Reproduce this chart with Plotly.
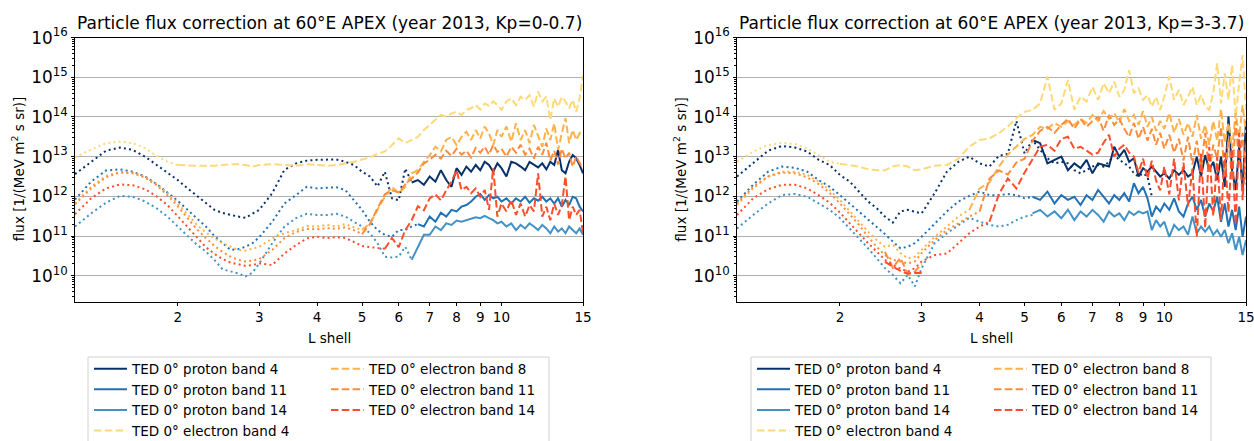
import plotly.graph_objects as go

# ---------------- data (L shell grid, log10 flux values) ----------------
G = [1.2, 1.3, 1.4, 1.5, 1.6, 1.7, 1.8, 1.9, 2.0, 2.1, 2.2, 2.3, 2.4, 2.5, 2.6, 2.7, 2.8, 2.9, 3.0,
     3.2, 3.4, 3.6, 3.8, 4.0, 4.2, 4.4, 4.6, 4.8, 5.0, 5.2, 5.4, 5.6, 5.8, 6.0, 6.2, 6.4, 6.6, 6.8,
     7.0, 7.2, 7.4, 7.6, 7.8, 8.0, 8.2, 8.4, 8.6, 8.8, 9.0, 9.2, 9.4, 9.6, 9.8, 10.0,
     10.25, 10.5, 10.75, 11.0, 11.25, 11.5, 11.75, 12.0, 12.25, 12.5, 12.75, 13.0, 13.25, 13.5,
     13.75, 14.0, 14.25, 14.5, 14.75, 15.0]

x_ticks = [2, 3, 4, 5, 6, 7, 8, 9, 10, 15]

names = ["TED 0° proton band 4", "TED 0° proton band 11", "TED 0° proton band 14",
         "TED 0° electron band 4", "TED 0° electron band 8", "TED 0° electron band 11",
         "TED 0° electron band 14"]

titles = ["Particle flux correction at 60°E APEX (year 2013, Kp=0-0.7)",
          "Particle flux correction at 60°E APEX (year 2013, Kp=3-3.7)"]
x_title = "L shell"
y_title = "flux [1/(MeV m<sup>2</sup> s sr)]"

# ---- Kp = 0-0.7 ----
a_p4_dot = [12.56, 12.87, 13.15, 13.23, 13.17, 13.00, 12.79, 12.60, 12.41, 12.20, 12.02, 11.83, 11.66, 11.58, 11.53,
            11.49, 11.46, 11.56, 11.66, 12.08, 12.67, 12.83, 12.90, 12.92, 12.92, 12.93, 12.87, 12.79, 12.62, 12.50,
            12.25, 12.62, 11.95, 11.90, 12.70, 12.35]
a_p4_main_from = 6.4
a_p4_main = [12.35, 12.41, 12.29, 12.50, 12.37, 12.66, 12.41, 12.24, 12.71, 12.54, 12.75, 12.62, 12.79, 12.66, 12.87,
             12.79, 12.62, 12.83, 12.71,
             12.50, 12.87, 12.83, 12.75, 12.66, 12.87, 12.79, 12.73, 12.83, 12.68, 12.87, 12.79, 13.17, 12.66, 12.58,
             12.87, 13.04, 12.96, 12.79, 12.58]
a_p11_dot = [11.92, 12.37, 12.65, 12.68, 12.62, 12.50, 12.31, 12.10, 11.89, 11.66, 11.45, 11.24, 11.00, 10.82, 10.65,
             10.67, 10.73, 10.82, 10.97, 11.36, 11.82, 12.03, 12.24, 12.20, 12.22, 12.23, 12.16, 11.91, 11.66, 11.36,
             11.15, 11.03, 10.98, 11.15, 11.15, 11.24, 11.30]
a_p11_main_from = 6.6
a_p11_main = [11.30, 11.24, 11.49, 11.36, 11.59, 11.49, 11.66, 11.62, 11.74, 11.78, 11.87, 11.99, 12.06, 11.91, 12.03,
              11.95, 11.99, 11.87,
              11.95, 11.82, 11.95, 11.87, 11.99, 11.84, 11.95, 11.89, 11.99, 11.87, 11.95, 11.82, 11.95, 11.74, 11.91,
              11.78, 11.99, 11.95, 11.74, 11.62]
a_p14_dot = [11.24, 11.57, 11.84, 12.01, 11.99, 11.87, 11.70, 11.49, 11.24, 11.00, 10.78, 10.61, 10.40, 10.16, 10.10,
             10.06, 9.98, 10.08, 10.31, 10.82, 11.24, 11.45, 11.56, 11.53, 11.53, 11.56, 11.49, 11.36, 11.24, 11.07,
             10.82, 10.48, 10.46, 10.48, 10.73, 10.40]
a_p14_main_from = 6.4
a_p14_main = [10.40, 10.73, 11.03, 11.03, 11.24, 11.15, 11.32, 11.28, 11.39, 11.36, 11.40, 11.45, 11.47, 11.45, 11.51,
              11.45, 11.40, 11.32, 11.36,
              11.24, 11.32, 11.15, 11.28, 11.19, 11.32, 11.24, 11.15, 11.28, 11.19, 11.07, 11.24, 11.11, 11.19, 11.07,
              11.24, 11.15, 11.07, 11.19, 11.03]
a_e4_dot = [12.98, 13.18, 13.34, 13.38, 13.34, 13.21, 13.02, 12.87, 12.79]
a_e4_main_from = 2.0
a_e4_main = [12.79, 12.77, 12.77, 12.77, 12.77, 12.79, 12.81, 12.81, 12.79, 12.75, 12.79,
             12.81, 12.79, 12.77, 12.81, 12.79, 12.77, 12.79, 12.83, 12.87, 12.93, 12.98, 13.07, 13.13, 13.29, 13.46,
             13.34, 13.42, 13.50, 13.67, 13.80, 13.92, 14.05, 14.01, 14.09, 14.13, 14.05, 14.18, 14.22, 14.30, 14.19,
             14.34, 14.28, 14.39, 14.30, 14.18,
             14.39, 14.47, 14.30, 14.51, 14.43, 14.55, 14.26, 14.64, 14.39, 14.51, 13.92, 14.47, 14.26, 14.51, 14.39,
             14.22, 14.43, 14.13, 14.47, 15.05]
a_e8_dot = [11.82, 12.24, 12.51, 12.62, 12.60, 12.50, 12.31, 12.08, 11.82, 11.53, 11.28, 11.09, 10.94, 10.82, 10.73,
            10.65, 10.63, 10.69, 10.73, 10.94, 11.07, 11.15, 11.25, 11.24, 11.28, 11.24, 11.30, 11.22, 11.15]
a_e8_main_from = 5.0
a_e8_main = [11.15, 11.32, 11.66, 11.99, 12.24, 12.08, 12.24, 12.58, 12.66, 12.87, 13.04, 13.25, 13.13, 13.42, 13.50,
             13.29, 13.50, 13.63, 13.42, 13.67, 13.46, 13.76, 13.59, 13.29, 13.67, 13.50,
             13.76, 13.38, 13.84, 13.42, 13.67, 13.34, 13.80, 13.50, 13.25, 13.71, 13.42, 13.84, 13.17, 13.59, 13.97,
             13.34, 13.67, 13.42, 13.59, 13.67]
a_e11_dot = [11.80, 12.20, 12.48, 12.60, 12.58, 12.47, 12.28, 12.03, 11.75, 11.45, 11.17, 10.95, 10.75, 10.60, 10.48,
             10.40, 10.36, 10.38, 10.42, 10.65, 10.95, 11.10, 11.18, 11.17, 11.20, 11.18, 11.22, 11.15, 11.05]
a_e11_main_from = 5.0
a_e11_main = [11.05, 11.30, 11.70, 12.05, 12.15, 12.10, 12.30, 12.45, 12.60, 12.83, 12.92, 13.05, 12.95, 13.15, 13.02,
              13.20, 13.05, 13.15, 12.98, 13.22, 13.10, 13.25, 13.05, 13.30, 13.12, 13.20,
              13.00, 13.25, 13.10, 13.30, 13.05, 13.20, 12.95, 13.25, 13.05, 13.35, 12.90, 13.15, 12.80, 13.20, 12.95,
              13.10, 12.75, 13.00, 12.85, 12.70]
a_e14_dot = [11.55, 11.95, 12.20, 12.30, 12.28, 12.18, 12.00, 11.78, 11.50, 11.22, 10.95, 10.72, 10.55, 10.42, 10.33,
             10.28, 10.25, 10.27, 10.31, 10.27, 10.56, 10.77, 10.94, 10.98, 10.95, 10.97, 10.95, 10.85, 10.75, 10.72,
             10.70, 10.68]
a_e14_main_from = 5.6
a_e14_main = [10.68, 10.95, 10.72, 11.15, 11.40, 11.75, 11.65, 11.95, 12.05, 11.90, 12.15, 12.37, 12.66, 12.16, 12.24,
              12.08, 12.20, 11.99, 12.16, 11.66, 12.71, 11.49, 11.82,
              11.62, 11.91, 11.53, 11.82, 11.49, 11.78, 11.62, 12.58, 11.49, 11.74, 11.40, 11.82, 11.53, 11.78, 12.50,
              11.40, 11.74, 11.53, 11.66, 11.07]

# ---- Kp = 3-3.7 ----
b_p4_dot = [12.50, 12.85, 13.15, 13.27, 13.23, 13.13, 12.92, 12.79, 12.54, 12.37, 12.12, 11.87, 11.70, 11.49, 11.34,
            11.62, 11.66, 11.62, 11.57, 12.08, 12.62, 12.87, 13.00, 12.83, 12.75, 13.02, 13.07, 13.90, 13.08, 13.42,
            13.17, 12.96, 12.83, 12.87, 12.83, 12.66, 12.58, 12.66, 12.75, 12.79, 12.75, 12.87, 13.04, 12.92, 12.83,
            12.75, 12.58, 12.50, 12.58, 12.50, 12.00]
b_p4_main_from = 5.2
b_p4_main = [13.42, 13.34, 12.83, 12.92, 13.00, 12.66, 12.83, 12.71, 12.92, 12.58, 12.83, 12.79, 12.75, 13.25, 13.00,
             13.17, 12.87, 12.96, 12.50, 12.71, 12.62, 12.75, 12.62, 12.50, 12.58,
             12.45, 12.66, 12.54, 12.66, 12.50, 12.58, 13.00, 12.50, 13.04, 12.66, 12.87, 12.41, 13.00, 12.24, 14.01,
             12.66, 12.16, 13.25, 12.20, 13.90]
b_p11_dot = [11.87, 12.29, 12.62, 12.75, 12.72, 12.62, 12.41, 12.24, 12.03, 11.82, 11.62, 11.42, 11.24, 11.05, 10.86,
             10.69, 10.73, 10.82, 10.98, 11.32, 11.62, 11.87, 12.01, 12.12, 12.03, 12.03, 12.06, 12.03, 11.95, 11.99]
b_p11_main_from = 5.2
b_p11_main = [11.99, 11.91, 12.12, 11.82, 12.03, 11.91, 11.99, 11.78, 12.03, 11.91, 12.16, 11.99, 11.82, 12.03, 11.91,
              12.08, 11.87, 12.33, 12.08, 12.24, 11.95, 11.49, 11.74, 11.62, 11.82,
              11.66, 11.95, 11.62, 11.49, 11.82, 11.99, 11.66, 11.91, 11.49, 11.82, 11.62, 11.99, 11.36, 11.82, 11.24,
              11.66, 11.15, 11.74, 10.98, 11.49]
b_p14_dot = [11.19, 11.53, 11.82, 12.03, 12.06, 11.99, 11.82, 11.66, 11.45, 11.19, 10.94, 10.69, 10.44, 10.19, 10.02,
             9.81, 10.02, 9.73, 10.19, 10.82, 11.07, 11.28, 11.46, 11.36, 11.28, 11.24, 11.28, 11.40, 11.49, 11.53]
b_p14_main_from = 5.2
b_p14_main = [11.57, 11.66, 11.49, 11.62, 11.45, 11.66, 11.40, 11.62, 11.49, 11.66, 11.53, 11.36, 11.62, 11.49, 11.57,
              11.40, 11.62, 11.53, 11.62, 11.57, 11.62, 11.15, 11.40, 11.24, 11.36,
              10.98, 11.28, 11.15, 11.24, 11.03, 11.49, 11.07, 11.24, 11.11, 11.24, 11.03, 11.15, 10.98, 11.15, 10.82,
              11.07, 10.65, 10.98, 10.52, 10.90]
b_e4_dot = [12.87, 13.13, 13.29, 13.35, 13.32, 13.21, 13.04, 12.87, 12.82]
b_e4_main_from = 2.0
b_e4_main = [12.82, 12.79, 12.75, 12.68, 12.66, 12.66, 12.75, 12.79, 12.75, 12.66, 12.68,
             12.77, 12.79, 12.95, 13.25, 13.42, 13.46, 13.59, 13.76, 13.97, 14.13, 14.18, 14.34, 15.02, 14.18, 14.34,
             14.93, 14.18, 14.51, 14.39, 14.76, 14.43, 14.85, 14.60, 14.89, 14.51, 14.68, 15.18, 14.60, 14.72, 14.43,
             14.55, 14.26, 14.51, 14.18, 14.51,
             15.02, 14.43, 14.68, 14.30, 14.51, 14.76, 14.30, 14.55, 14.26, 14.18, 14.60, 15.35, 14.34, 15.10, 14.43,
             15.31, 14.01, 14.85, 15.56, 14.18]
b_e8_dot = [11.78, 12.20, 12.50, 12.62, 12.62, 12.54, 12.37, 12.16, 11.91, 11.62, 11.36, 11.11, 10.90, 10.73, 10.78,
            10.57, 10.44, 10.48, 10.65, 10.98, 11.24, 11.49, 11.66]
b_e8_main_from = 3.8
b_e8_main = [11.66, 12.20, 12.35, 12.75, 13.05, 13.25, 13.45, 13.55, 13.75, 13.70, 13.85, 13.75, 13.90, 13.80, 13.95,
             13.85, 14.05, 13.90, 14.15, 13.95, 14.10, 13.85, 14.20, 13.90, 14.05, 13.80, 14.15, 13.75, 14.00, 13.65,
             13.90, 13.70,
             14.10, 13.60, 13.95, 13.55, 13.85, 13.50, 14.05, 13.45, 13.80, 13.30, 13.90, 13.40, 14.20, 13.35, 13.85,
             13.20, 14.10, 13.50, 14.30, 13.60]
b_e11_dot = [11.82, 12.24, 12.50, 12.60, 12.58, 12.48, 12.31, 12.09, 11.82, 11.53, 11.28, 10.98, 10.73, 10.52, 10.40,
             10.36, 10.31, 10.36, 10.57, 10.90, 11.15, 11.32, 11.49, 11.62]
b_e11_main_from = 2.5
b_e11_main = [10.60, 10.20, 10.45, 10.05, 10.10, 10.30,
              None, None, None, None, 11.62, 12.45, 12.65, 12.55, 12.85, 12.95, 13.40, 13.65, 13.75, 13.60, 13.80,
              13.95, 13.70, 13.95, 13.75, 13.90, 14.00, 13.65, 14.05, 13.80, 13.95, 13.70, 13.50, 13.85, 13.45, 13.75,
              13.40, 13.70, 13.30, 13.60, 13.20,
              13.55, 13.10, 13.45, 12.90, 13.50, 12.80, 13.40, 12.70, 13.60, 12.60, 13.30, 12.95, 13.75, 12.50, 13.45,
              12.40, 13.90, 12.80, 13.60, 12.30]
b_e14_dot = [11.53, 11.95, 12.18, 12.29, 12.29, 12.20, 12.03, 11.84, 11.59, 11.32, 11.05, 10.82, 10.61, 10.40, 10.27,
             10.19, 10.10, 10.19, 10.36, 10.52, 10.56, 10.82, 11.07, 11.24, 11.36]
b_e14_main_from = 2.5
b_e14_main = [10.35, 10.23, 10.12, 10.05, 10.07, 10.07,
              None, None, None, None, None, 11.36, 12.05, 12.45, 12.20, 12.60, 12.95, 13.25, 13.30, 13.15, 13.45,
              13.50, 13.20, 13.25, 13.15, 13.05, 13.10, 13.35, 13.55, 13.00, 13.20, 13.30, 13.10, 13.00, 12.60, 12.95,
              12.45, 12.90, 12.40, 12.15, 12.75,
              12.05, 12.95, 11.90, 12.85, 11.75, 12.70, 10.98, 13.10, 11.20, 13.25, 11.50, 13.00, 11.40, 13.10, 11.60,
              13.20, 11.30, 13.60, 11.90, 13.30]

panels = [
    [(a_p4_dot, a_p4_main_from, a_p4_main), (a_p11_dot, a_p11_main_from, a_p11_main),
     (a_p14_dot, a_p14_main_from, a_p14_main), (a_e4_dot, a_e4_main_from, a_e4_main),
     (a_e8_dot, a_e8_main_from, a_e8_main), (a_e11_dot, a_e11_main_from, a_e11_main),
     (a_e14_dot, a_e14_main_from, a_e14_main)],
    [(b_p4_dot, b_p4_main_from, b_p4_main), (b_p11_dot, b_p11_main_from, b_p11_main),
     (b_p14_dot, b_p14_main_from, b_p14_main), (b_e4_dot, b_e4_main_from, b_e4_main),
     (b_e8_dot, b_e8_main_from, b_e8_main), (b_e11_dot, b_e11_main_from, b_e11_main),
     (b_e14_dot, b_e14_main_from, b_e14_main)],
]

# ---------------- styling ----------------
colors = ["#08306b", "#2171b5", "#4292c6", "#fed976", "#feb24c", "#fd8d3c", "#fc4e2a"]
main_dash = ["solid", "solid", "solid", "7.5px,3.3px", "7.5px,3.3px", "7.5px,3.3px", "7.5px,3.3px"]
DOT = "2px,3.2px"
FONT = "DejaVu Sans"
W, H = 1254, 441


def seg(start, vals):
    i = G.index(start)
    xs = G[i:i + len(vals)]
    ys = [None if v is None else 10 ** v for v in vals]
    return xs, ys


fig = go.Figure()
xdom = [[75 / W, 583 / W], [737 / W, 1246 / W]]
ydom = [(H - 301.7) / H, (H - 37.6) / H]
legend_ids = [("legend", "legend2"), ("legend3", "legend4")]

for p in range(2):
    xa = "x" if p == 0 else "x2"
    ya = "y" if p == 0 else "y2"
    for k, (dot, mfrom, main) in enumerate(panels[p]):
        dx, dy = seg(1.2, dot)
        fig.add_trace(go.Scatter(x=dx, y=dy, mode="lines", xaxis=xa, yaxis=ya, showlegend=False,
                                 line=dict(color=colors[k], width=2, dash=DOT), hoverinfo="skip"))
        mx, my = seg(mfrom, main)
        leg = legend_ids[p][0] if k < 4 else legend_ids[p][1]
        fig.add_trace(go.Scatter(x=mx, y=my, mode="lines", xaxis=xa, yaxis=ya, name=names[k],
                                 legend=leg, showlegend=True, connectgaps=False,
                                 line=dict(color=colors[k], width=2, dash=main_dash[k])))

axis_common = dict(showline=True, linecolor="black", linewidth=1, mirror=True,
                   tickfont=dict(family=FONT, size=13.5, color="black"), ticks="outside",
                   tickcolor="black", ticklen=3.5, tickwidth=1, zeroline=False,
                   ticklabeloverflow="allow")

for p in range(2):
    sfx = "" if p == 0 else "2"
    fig.update_layout(**{
        "xaxis" + sfx: dict(axis_common, type="log", domain=xdom[p],
                            range=[0.07918, 1.17609], tickvals=x_ticks,
                            ticktext=[str(t) for t in x_ticks], showgrid=False,
                            anchor="y" + sfx),
        "yaxis" + sfx: dict(axis_common, type="log", domain=ydom, range=[9.345, 16],
                            dtick=1, exponentformat="power", showgrid=True, gridcolor="#b0b0b0",
                            gridwidth=1, anchor="x" + sfx,
                            minor=dict(ticks="outside", ticklen=2, tickcolor="black", tickwidth=0.8,
                                       showgrid=False)),
    })

annotations = []
ytitle_x = [17.5, 680]
for p in range(2):
    xc = (xdom[p][0] + xdom[p][1]) / 2
    annotations.append(dict(text=titles[p], x=xc, y=(H - 23) / H,
                            xref="paper", yref="paper", xanchor="center", yanchor="middle",
                            showarrow=False, font=dict(family=FONT, size=17, color="black")))
    annotations.append(dict(text=x_title, x=xc, y=(H - 338) / H,
                            xref="paper", yref="paper", xanchor="center", yanchor="middle",
                            showarrow=False, font=dict(family=FONT, size=13.5, color="black")))
    annotations.append(dict(text=y_title, x=ytitle_x[p] / W, y=(ydom[0] + ydom[1]) / 2,
                            xref="paper", yref="paper", xanchor="center", yanchor="middle",
                            textangle=-90, showarrow=False,
                            font=dict(family=FONT, size=13.5, color="black")))

# legend boxes and legends
leg_left = [88, 751]
leg_right = [549, 1211]
col2_off = 237
shapes = []
legend_layout = {}
for p in range(2):
    shapes.append(dict(type="rect", xref="paper", yref="paper",
                       x0=leg_left[p] / W, x1=leg_right[p] / W, y0=-0.05, y1=(H - 357) / H,
                       line=dict(color="#d0d0d0", width=1), fillcolor="rgba(255,255,255,0.8)",
                       layer="below"))
    for c in range(2):
        legend_layout[legend_ids[p][c]] = dict(
            x=(leg_left[p] + 1 + c * col2_off) / W, y=(H - 353.5) / H, xanchor="left", yanchor="top",
            xref="container", yref="container",
            bgcolor="rgba(0,0,0,0)", borderwidth=0, orientation="v", tracegroupgap=0,
            font=dict(family=FONT, size=13.5, color="black"), itemwidth=33)

fig.update_layout(width=W, height=H, margin=dict(l=0, r=0, t=0, b=0, autoexpand=False),
                  paper_bgcolor="white", plot_bgcolor="white",
                  font=dict(family=FONT, size=13.5, color="black"),
                  annotations=annotations, shapes=shapes, showlegend=True, **legend_layout)

fig.write_html("out.html", config={"displayModeBar": False},
               post_script="document.body.style.margin='0';document.body.style.overflow='hidden';")
